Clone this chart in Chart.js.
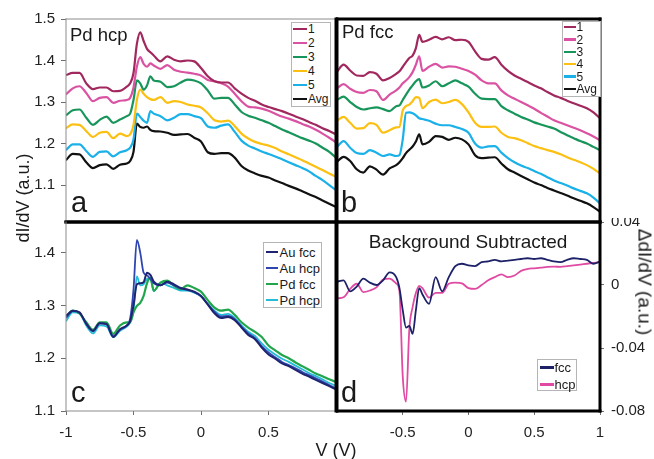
<!DOCTYPE html>
<html><head><meta charset="utf-8">
<script src="https://cdn.jsdelivr.net/npm/chart.js@4.4.1/dist/chart.umd.min.js"></script>
<style>
html,body{margin:0;padding:0;background:#fff;}
#wrap{position:relative;width:654px;height:459px;overflow:hidden;font-family:"Liberation Sans",Arial,Helvetica,sans-serif;color:#1a1a1a;background:#fff;}
.panel{position:absolute;}
.txt{position:absolute;white-space:nowrap;line-height:1;}
.legend{position:absolute;background:#fff;border:1px solid #b5b5b5;box-sizing:border-box;}
.legend .it{position:absolute;white-space:nowrap;color:#1a1a1a;}
.legend .ln{position:absolute;}
</style></head><body>
<div id="wrap">
  <div class="panel" style="left:0;top:0;width:340px;height:226px"><canvas id="ca"></canvas></div>
  <div class="panel" style="left:336px;top:0;width:270px;height:226px"><canvas id="cb"></canvas></div>
  <div class="panel" style="left:0;top:218px;width:340px;height:241px"><canvas id="cc"></canvas></div>
  <div class="panel" style="left:336px;top:218px;width:318px;height:241px"><canvas id="cd"></canvas></div>
</div>
<script>
// ---------- data ----------
const V = [-1,-0.95,-0.9,-0.85,-0.8,-0.75,-0.7,-0.65,-0.6,-0.55,-0.525,-0.5,-0.475,-0.45,-0.425,-0.4,-0.375,-0.35,-0.3,-0.25,-0.2,-0.15,-0.1,-0.05,0,0.05,0.1,0.15,0.2,0.25,0.3,0.35,0.4,0.45,0.5,0.55,0.6,0.65,0.7,0.75,0.8,0.85,0.9,0.95,1];

// panel a: Pd hcp
const a1 = [1.365,1.37,1.37,1.345,1.331,1.335,1.335,1.326,1.327,1.337,1.345,1.37,1.44,1.468,1.447,1.428,1.42,1.412,1.398,1.41,1.402,1.398,1.4,1.398,1.382,1.362,1.35,1.347,1.347,1.333,1.32,1.31,1.303,1.294,1.288,1.283,1.278,1.272,1.265,1.259,1.252,1.245,1.237,1.23,1.222];
const a2 = [1.318,1.333,1.338,1.322,1.302,1.31,1.312,1.298,1.303,1.305,1.31,1.335,1.385,1.408,1.392,1.385,1.393,1.388,1.38,1.389,1.378,1.373,1.371,1.368,1.364,1.353,1.35,1.345,1.337,1.32,1.302,1.289,1.287,1.284,1.279,1.272,1.265,1.26,1.254,1.247,1.241,1.233,1.224,1.214,1.203];
const a3 = [1.268,1.28,1.282,1.262,1.245,1.257,1.265,1.25,1.258,1.266,1.272,1.305,1.352,1.345,1.33,1.34,1.362,1.352,1.349,1.336,1.338,1.347,1.354,1.352,1.345,1.328,1.308,1.31,1.31,1.294,1.276,1.267,1.262,1.256,1.25,1.242,1.234,1.227,1.22,1.213,1.207,1.2,1.19,1.18,1.166];
const a4 = [1.237,1.246,1.245,1.23,1.216,1.226,1.228,1.213,1.224,1.218,1.222,1.245,1.305,1.33,1.32,1.312,1.307,1.305,1.312,1.298,1.302,1.3,1.294,1.291,1.287,1.273,1.256,1.253,1.255,1.242,1.224,1.212,1.204,1.199,1.195,1.189,1.181,1.174,1.167,1.16,1.152,1.144,1.136,1.128,1.12];
const a5 = [1.184,1.198,1.198,1.182,1.168,1.18,1.181,1.169,1.179,1.184,1.19,1.21,1.272,1.264,1.255,1.25,1.278,1.272,1.266,1.256,1.262,1.271,1.271,1.266,1.261,1.241,1.238,1.243,1.246,1.228,1.207,1.195,1.188,1.181,1.175,1.169,1.162,1.155,1.148,1.141,1.133,1.122,1.112,1.1,1.088];
const aAvg = [1.16,1.175,1.174,1.155,1.141,1.148,1.15,1.139,1.149,1.152,1.158,1.18,1.248,1.24,1.238,1.241,1.233,1.23,1.229,1.226,1.221,1.222,1.223,1.214,1.205,1.179,1.175,1.177,1.177,1.166,1.146,1.135,1.128,1.122,1.118,1.111,1.105,1.098,1.092,1.085,1.078,1.071,1.063,1.055,1.047];

// panel b: Pd fcc
const b1 = [1.373,1.39,1.376,1.364,1.363,1.372,1.368,1.352,1.358,1.368,1.374,1.385,1.396,1.406,1.412,1.43,1.462,1.445,1.45,1.457,1.451,1.456,1.449,1.45,1.445,1.422,1.404,1.402,1.408,1.39,1.375,1.364,1.356,1.348,1.34,1.333,1.324,1.316,1.31,1.303,1.297,1.291,1.285,1.275,1.261];
const b2 = [1.333,1.343,1.332,1.324,1.322,1.329,1.326,1.305,1.318,1.328,1.335,1.345,1.352,1.36,1.372,1.39,1.41,1.375,1.385,1.392,1.383,1.386,1.385,1.38,1.375,1.366,1.352,1.345,1.345,1.328,1.316,1.308,1.3,1.292,1.284,1.274,1.265,1.256,1.25,1.244,1.238,1.232,1.225,1.217,1.208];
const b3 = [1.305,1.313,1.3,1.288,1.282,1.285,1.287,1.283,1.278,1.29,1.292,1.305,1.318,1.33,1.34,1.35,1.355,1.335,1.34,1.35,1.338,1.345,1.352,1.345,1.337,1.32,1.308,1.307,1.307,1.29,1.28,1.272,1.264,1.258,1.251,1.246,1.241,1.236,1.228,1.22,1.213,1.206,1.2,1.192,1.184];
const b4 = [1.255,1.264,1.25,1.236,1.237,1.249,1.245,1.226,1.232,1.239,1.24,1.28,1.29,1.294,1.302,1.312,1.31,1.285,1.3,1.306,1.297,1.3,1.305,1.295,1.275,1.25,1.24,1.24,1.241,1.226,1.216,1.213,1.208,1.201,1.194,1.189,1.184,1.18,1.174,1.167,1.161,1.155,1.148,1.139,1.128];
const b5 = [1.192,1.206,1.19,1.177,1.175,1.184,1.178,1.17,1.174,1.17,1.172,1.21,1.274,1.275,1.273,1.268,1.261,1.259,1.255,1.248,1.244,1.244,1.24,1.235,1.226,1.2,1.19,1.193,1.194,1.178,1.165,1.155,1.147,1.141,1.134,1.127,1.119,1.111,1.105,1.099,1.092,1.086,1.08,1.07,1.056];
const bAvg = [1.156,1.168,1.158,1.138,1.13,1.145,1.137,1.125,1.14,1.148,1.155,1.165,1.177,1.185,1.193,1.205,1.222,1.198,1.204,1.218,1.216,1.209,1.214,1.21,1.198,1.172,1.165,1.166,1.167,1.152,1.138,1.13,1.122,1.114,1.106,1.1,1.093,1.087,1.081,1.075,1.068,1.062,1.056,1.047,1.036];

// panel c: comparison
const cAuFcc = [1.28,1.29,1.287,1.265,1.252,1.266,1.265,1.24,1.255,1.262,1.27,1.3,1.34,1.342,1.344,1.362,1.358,1.345,1.338,1.345,1.34,1.333,1.33,1.326,1.318,1.302,1.285,1.276,1.278,1.272,1.258,1.244,1.236,1.22,1.207,1.199,1.19,1.185,1.178,1.171,1.165,1.159,1.153,1.147,1.141];
const cAuHcp = [1.276,1.289,1.286,1.266,1.251,1.266,1.264,1.242,1.254,1.262,1.275,1.33,1.424,1.4,1.362,1.357,1.35,1.342,1.338,1.343,1.338,1.332,1.329,1.325,1.317,1.302,1.288,1.279,1.28,1.274,1.26,1.247,1.238,1.223,1.211,1.202,1.193,1.187,1.181,1.174,1.168,1.162,1.156,1.149,1.143];
const cPdFcc = [1.279,1.29,1.285,1.268,1.254,1.268,1.268,1.246,1.262,1.268,1.268,1.287,1.299,1.305,1.318,1.342,1.352,1.328,1.343,1.347,1.337,1.331,1.338,1.333,1.326,1.31,1.296,1.29,1.292,1.282,1.268,1.258,1.25,1.24,1.224,1.215,1.206,1.2,1.192,1.185,1.178,1.171,1.166,1.16,1.155];
const cPdHcp = [1.27,1.287,1.285,1.262,1.247,1.262,1.26,1.24,1.252,1.26,1.268,1.29,1.355,1.338,1.34,1.35,1.352,1.327,1.343,1.338,1.333,1.328,1.328,1.324,1.318,1.303,1.29,1.282,1.284,1.276,1.262,1.25,1.242,1.228,1.216,1.207,1.199,1.193,1.186,1.179,1.172,1.166,1.16,1.153,1.148];

// panel d: background subtracted
const dFcc = [0.002,0.003,-0.004,-0.001,0.004,0.0015,0,0.003,0.008,0.005,-0.002,-0.016,-0.027,-0.026,-0.031,-0.016,-0.002,-0.006,-0.012,0.005,-0.004,0.005,0.012,0.0135,0.0125,0.012,0.0145,0.015,0.016,0.015,0.0155,0.016,0.0165,0.017,0.0165,0.017,0.016,0.015,0.0145,0.016,0.017,0.0165,0.016,0.0135,0.015];
const dHcp = [-0.0085,-0.0078,-0.0025,0.0008,-0.0045,-0.0035,-0.0015,0.0035,0.004,0.001,-0.004,-0.058,-0.074,-0.028,-0.014,-0.005,-0.0005,-0.002,-0.008,-0.005,-0.005,0.0008,0.0015,0.001,-0.002,-0.0025,0,0.003,0.005,0.0068,0.005,0.006,0.009,0.0102,0.0106,0.011,0.0115,0.0117,0.0115,0.012,0.0125,0.013,0.0135,0.014,0.0145];

// labels and ticks
const abLabels = ['1','2','3','4','5','Avg'];
const cLabels = ['Au fcc','Au hcp','Pd fcc','Pd hcp'];
const dLabels = ['fcc','hcp'];
const yTicksAB = [1.1,1.2,1.3,1.4,1.5];
const yTicksC = [1.1,1.2,1.3,1.4];
const xTicksC = [-1,-0.5,0,0.5];
const xTicksD = [-0.5,0,0.5,1];
const yTicksD = [-0.08,-0.04,0,0.04];

// ---------- styling ----------
const FONT = '"Liberation Sans", Arial, Helvetica, sans-serif';
const abColors = ['#a0285e','#da52a2','#18955a','#fcc012','#1ab0e8','#111111'];
const cColors = ['#1f2470','#2f46b2','#22a64c','#24bdd6'];
const dColors = ['#1d2168','#e04aa3'];
const BLACK = ['#000',3], GREY = ['#8c8c8c',1];

const frame = {
  id:'frame',
  afterDatasetsDraw(chart, args, opts){
    const {ctx, chartArea:{left,right,top,bottom}} = chart;
    const s = opts.sides || {};
    ctx.save();
    ctx.lineCap = 'square';
    const line = (sp,x1,y1,x2,y2)=>{ if(!sp) return; ctx.strokeStyle=sp[0]; ctx.lineWidth=sp[1]; ctx.beginPath(); ctx.moveTo(x1,y1); ctx.lineTo(x2,y2); ctx.stroke(); };
    line(s.top,left,top,right,top);
    line(s.bottom,left,bottom,right,bottom);
    line(s.left,left,top,left,bottom);
    line(s.right,right,top,right,bottom);
    ctx.restore();
  }
};

function sets(series, colors, labels, width){
  return series.map((arr,i)=>({
    label: labels[i],
    data: V.map((v,j)=>({x:v,y:arr[j]})),
    borderColor: colors[i], backgroundColor: colors[i],
    borderWidth: Array.isArray(width)?width[i]:width,
    pointRadius: 0, cubicInterpolationMode:'monotone', fill:false
  }));
}
const tickFont = {family:FONT, size:15};
const fixTicks = arr => s => { s.ticks = arr.map(v=>({value:v})); };
const noPadY = w => s => { s.width = w; s.paddingTop = 0; s.paddingBottom = 0; };
const noPadX = h => s => { s.height = h; s.paddingLeft = 0; s.paddingRight = 0; };
const gridTicks = len => ({drawOnChartArea:false, drawTicks:true, tickLength:len, color:'#6e6e6e', lineWidth:1});

function make(id, datasets, padding, scales, sides){
  return new Chart(document.getElementById(id), {
    type:'line',
    data:{datasets},
    options:{
      responsive:true, maintainAspectRatio:false, animation:false,
      layout:{padding},
      plugins:{legend:{display:false}, tooltip:{enabled:false}, frame:{sides}},
      scales
    },
    plugins:[frame]
  });
}

// panel a
make('ca', sets([a1,a2,a3,a4,a5,aAvg], abColors, abLabels, 2.2), {top:19,right:4,bottom:4,left:0}, {
  x:{type:'linear', min:-1, max:1, display:false},
  y:{min:1.011, max:1.5, afterBuildTicks:fixTicks(yTicksAB), afterFit:noPadY(66),
     grid:gridTicks(5), border:{display:false},
     ticks:{padding:6, color:'#222', font:tickFont, callback:v=>String(v)}}
}, {top:GREY, left:GREY, right:BLACK, bottom:BLACK});

// panel b
make('cb', sets([b1,b2,b3,b4,b5,bAvg], abColors, abLabels, 2.2), {top:19,right:6,bottom:4,left:1}, {
  x:{type:'linear', min:-1, max:1, display:false},
  y:{min:1.011, max:1.5, display:false}
}, {top:BLACK, left:BLACK, right:BLACK, bottom:BLACK});

// panel c
make('cc', sets([cAuFcc,cAuHcp,cPdFcc,cPdHcp], cColors, cLabels, [2,1.8,2.2,1.8]), {top:4,right:4,bottom:0,left:0}, {
  x:{type:'linear', min:-1, max:1, afterBuildTicks:fixTicks(xTicksC), afterFit:noPadX(48),
     grid:gridTicks(4), border:{display:false},
     ticks:{padding:9, color:'#222', font:tickFont, maxRotation:0, callback:v=>String(v)}},
  y:{min:1.1, max:1.458, afterBuildTicks:fixTicks(yTicksC), afterFit:noPadY(66),
     grid:gridTicks(5), border:{display:false},
     ticks:{padding:6, color:'#222', font:tickFont, callback:v=>String(v)}}
}, {top:BLACK, left:GREY, right:BLACK, bottom:GREY});

// panel d
make('cd', sets([dFcc,dHcp], dColors, dLabels, 1.8), {top:4,right:0,bottom:0,left:1}, {
  x:{type:'linear', min:-1, max:1, afterBuildTicks:fixTicks(xTicksD), afterFit:noPadX(48),
     grid:gridTicks(4), border:{display:false},
     ticks:{padding:9, color:'#222', font:tickFont, maxRotation:0, callback:v=>String(v)}},
  y:{position:'right', min:-0.08, max:0.04, afterBuildTicks:fixTicks(yTicksD), afterFit:noPadY(54),
     grid:gridTicks(4), border:{display:false},
     ticks:{padding:7, color:'#222', font:tickFont, callback:v=>String(v)}}
}, {top:BLACK, left:BLACK, right:BLACK, bottom:BLACK});

// ---------- text & legends (HTML) ----------
const wrap = document.getElementById('wrap');
function text(str, o){
  const d = document.createElement('div');
  d.className = 'txt';
  d.textContent = str;
  d.style.fontSize = o.size+'px';
  if (o.rot){
    d.style.left = o.cx+'px'; d.style.top = o.cy+'px';
    d.style.transform = 'translate(-50%,-50%) rotate('+o.rot+'deg)';
  } else {
    d.style.top = (o.base - 0.8465*o.size)+'px';
    if (o.center){ d.style.left = o.cx+'px'; d.style.transform='translateX(-50%)'; }
    else d.style.left = o.x+'px';
  }
  wrap.appendChild(d);
}
text('dI/dV (a.u.)', {size:18, cx:23, cy:198, rot:-90});
text('ΔdI/dV (a.u.)', {size:19, cx:645, cy:282, rot:90});
text('V (V)', {size:18, cx:336, base:456, center:true});
text('Pd hcp', {size:18.5, x:70, base:41.5});
text('Pd fcc', {size:18.5, x:342, base:38.5});
text('Background Subtracted', {size:19, cx:468, base:248, center:true});
text('a', {size:29, x:71, base:213});
text('b', {size:29, x:341, base:213});
text('c', {size:29, x:71, base:403});
text('d', {size:29, x:341, base:403});

function legend(labels, colors, o){
  const box = document.createElement('div');
  box.className = 'legend';
  box.style.cssText = `left:${o.x}px;top:${o.y}px;width:${o.w}px;height:${o.h}px`;
  labels.forEach((lab,i)=>{
    const cy = o.first + i*o.step;
    const ln = document.createElement('div'); ln.className='ln';
    ln.style.cssText = `left:${o.lx}px;top:${cy-1.25}px;width:${o.lw}px;height:2.5px;background:${colors[i]}`;
    const t = document.createElement('div'); t.className='it';
    t.style.cssText = `left:${o.tx}px;top:${cy-0.49*o.fs}px;font-size:${o.fs}px;line-height:1`;
    t.textContent = lab;
    box.append(ln,t);
  });
  wrap.appendChild(box);
}
legend(abLabels, abColors, {x:291, y:22, w:40, h:85, first:6, step:14, lx:1, lw:14, tx:16, fs:12});
legend(abLabels, abColors, {x:562, y:21, w:39, h:76, first:5, step:12.4, lx:1, lw:12, tx:13.5, fs:12});
legend(cLabels, cColors, {x:263, y:242, w:59, h:66, first:9, step:16, lx:1.5, lw:12, tx:15.5, fs:13});
legend(dLabels, dColors, {x:537, y:359, w:40, h:32, first:7.5, step:17, lx:1.5, lw:14, tx:16.5, fs:13});
</script>
</body></html>
